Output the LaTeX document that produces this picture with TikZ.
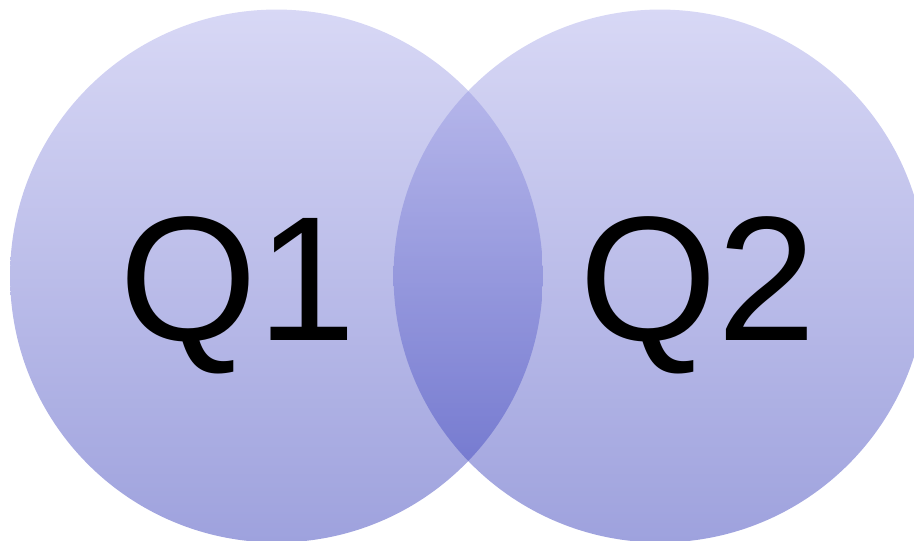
\documentclass[tikz,border=0pt]{standalone}
\usepackage{fontspec}
\setmainfont{Liberation Sans}
\usepackage{xcolor}
\usepackage{tikz}
\usetikzlibrary{positioning}
\definecolor{setlight}{RGB}{168,168,233}
\definecolor{setdark}{RGB}{40,48,180}
\definecolor{ink}{HTML}{000000}

\begin{document}
\begin{tikzpicture}[x=0.02cm,y=-0.02cm,
  setdisc/.style={circle,minimum size=10.66cm,inner sep=0pt,top color=setlight,bottom color=setdark,fill opacity=0.45,draw=none},
  setname/.style={anchor=base,inner sep=0pt,text=ink,font=\fontsize{101}{101}\selectfont}]
  \useasboundingbox (0,0) rectangle (914,541);
  \clip (0,0) rectangle (914,541);
  \node[setdisc] (s1) at (276.5,276) {};
  \node[setdisc] (s2) at (660,276) {};
  \node[setname] (q1) at (238,340) {Q1};
  \node[setname] (q2) at (698,340) {Q2};
\end{tikzpicture}
\end{document}
